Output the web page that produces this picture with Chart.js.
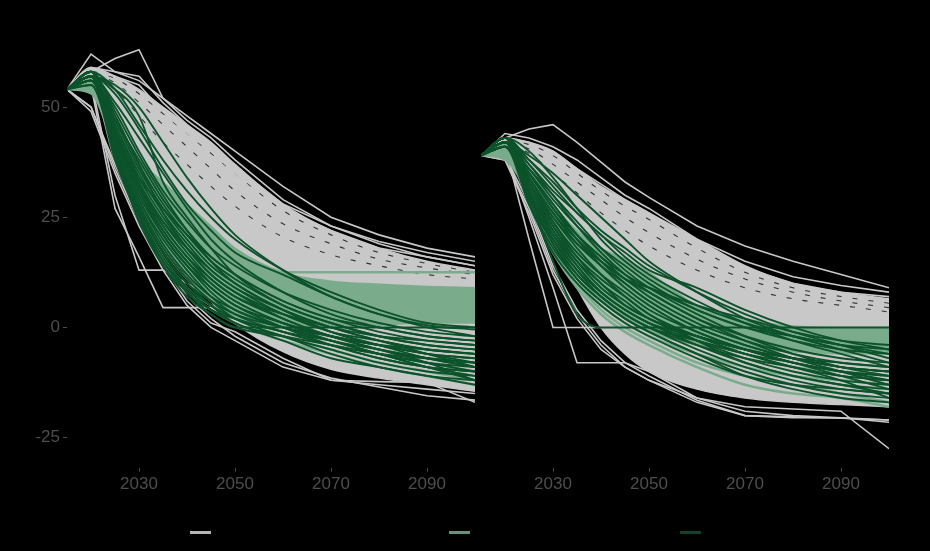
<!DOCTYPE html>
<html>
<head>
<meta charset="utf-8">
<script src="https://cdn.jsdelivr.net/npm/chart.js@4.4.1/dist/chart.umd.min.js"></script>
<style>
  body { margin: 0; background: #000; width: 930px; height: 551px; overflow: hidden; position: relative; font-family: "Liberation Sans", Arial, sans-serif; }
  .panel { position: absolute; top: 0; }
  #left { left: 0; }
  #right { left: 476px; }
  .key { position: absolute; top: 522px; height: 20px; display: flex; align-items: center; font-size: 15px; color: #000; }
  .key span.sw { display: inline-block; width: 21px; height: 3px; margin-right: 6px; }
</style>
</head>
<body>
<div class="panel" id="left"><canvas id="leftChart" width="480" height="506"></canvas></div>
<div class="panel" id="right"><canvas id="rightChart" width="454" height="506"></canvas></div>
<div class="key" style="left:190px"><span class="sw" style="background:#b4b4b4"></span>All scenarios</div>
<div class="key" style="left:449px"><span class="sw" style="background:#66947b"></span>1.5°C scenarios</div>
<div class="key" style="left:680px"><span class="sw" style="background:#15402a"></span>Selected pathways</div>
<script>
// shared time grid
const years = [2015, 2020, 2025, 2030, 2035, 2040, 2045, 2050, 2060, 2070, 2080, 2090, 2100];
const xTicks = [2030, 2050, 2070, 2090];
const yTicks = [-25, 0, 25, 50];

// ---- left panel ----
const leftGrayLow = [54, 54, 45, 34, 25, 15, 6, 1, -5.5, -9.5, -11.5, -13, -14.5];
const leftGrayHigh = [54, 59, 57, 54, 50, 46, 42, 37, 28, 22, 18, 15, 13];
const leftStreaks = [
  [54, 58, 56.5, 53, 48.5, 44, 39.5, 35, 26.5, 21, 17, 14.5, 12.5],
  [54, 57.5, 55.5, 51, 46, 41, 36, 31, 23.5, 19, 15.5, 13.5, 12],
  [54, 57, 54, 48, 42, 37, 32, 27.5, 20.5, 16.5, 14, 12, 11]
];
const leftGray = [
  [54, 58, 61, 63, 52, 47, 43, 38, 29, 23, 19, 16, 14],
  [54, 62, 58, 56, 52, 48, 44, 40, 32, 25, 21, 18, 16],
  [54, 59, 58, 57, 51, 46, 41, 36.5, 28, 23, 19.5, 17, 15],
  [54, 58, 57, 55, 49, 44, 40, 35, 27, 22, 18, 16, 14],
  [54, 56, 30, 13, 13, 10, 7, 4, 0, -3, -6, -8, -9],
  [54, 55, 27, 16, 4.5, 4.5, 4.5, 1, -3, -6, -8, -10, -11],
  [54, 50, 36, 24, 14, 6, 1, -1, -7, -12, -12.3, -12.5, -17],
  [54, 49, 35, 23, 13, 5, 0, -3, -9, -12, -13, -14, -15],
  [54, 50, 37, 25, 15, 7, 2, -2, -8, -11.5, -13.5, -15.5, -16.5]
];
const leftBandLow = [54, 53, 40, 28, 19, 12, 6, 2.5, 0, 0, 0.5, 1, 1];
const leftBandHigh = [54, 57, 46, 38, 33, 28, 23, 18, 12.5, 10.5, 9.8, 9.3, 9];
const leftLight = [
  [54, 57, 45, 32, 22, 17, 14, 13, 12.5, 12.5, 12.5, 12.5, 12.5],
  [54, 55, 40, 28, 18, 11, 6, 3, -1, -4, -6, -7, -8],
  [54, 56, 41, 29, 19, 12, 7, 4, 0, -3, -6, -8, -10],
  [54, 55, 39, 26, 16, 9, 5, 2, -2, -5, -8, -10, -12],
  [54, 56, 42, 30, 20, 13, 8, 5, 1, -2, -4, -5, -6],
  [54, 55, 38, 25, 15, 8, 4, 1, -3, -6, -9, -11, -13]
];
const leftDark = [
  [54, 57, 50, 40, 31, 24, 18, 14, 8, 4, 1, -1, -2],
  [54, 58, 48, 37, 28, 21, 15, 11, 5, 1, -2, -4, -5],
  [54, 57, 46, 35, 26, 19, 13, 9, 3, -1, -3, -5, -6],
  [54, 56, 45, 33, 24, 17, 11, 7, 2, -2, -4, -6, -7],
  [54, 57, 44, 31, 22, 15, 10, 6, 1, -2, -5, -7, -8],
  [54, 58, 43, 30, 21, 14, 8, 4, 0, -3, -6, -8, -9],
  [54, 56, 42, 29, 20, 13, 7, 3, -1, -4, -7, -9, -10],
  [54, 57, 41, 28, 18, 11, 6, 2, -2, -5, -8, -10, -11],
  [54, 55, 40, 27, 17, 10, 5, 1, -2, -6, -9, -11, -12],
  [54, 57, 39, 26, 16, 9, 4, 1, -3, -7, -9, -11, -13],
  [54, 56, 44, 34, 27, 21, 16, 12, 6, 2, 0, -2, -3],
  [54, 57, 47, 36, 27, 20, 14, 10, 4, 0, -3, -5, -6],
  [54, 57, 53, 45, 36, 28, 22, 17, 12, 7, 3, 0.5, -0.5],
  [54, 56, 40, 25, 14, 7, 3, 0, 0, 0, 0, 0, 0],
  [54, 57, 45, 32, 23, 16, 11, 7, 3, 0, -2, -3, -4],
  [54, 58, 42, 29, 19, 12, 7, 4, 0, -3, -5, -7, -9],
  [54, 57, 38, 25, 15, 9, 5, 2, -1, -4, -6, -8, -10],
  [54, 56, 47, 38, 29, 22, 16, 12, 6, 2, -1, -3, -4],
  [54, 57, 43, 31, 21, 14, 9, 5, 1, -2, -4, -5, -6],
  [54, 58, 49, 39, 30, 22, 15, 10, 4, -1, -4, -6, -8],
  [54, 57, 41, 27, 17, 10, 6, 3, 0, -2, -4, -6, -7],
  [54, 55, 39, 24, 14, 8, 4, 2, -1, -3, -6, -9, -11],
  [54, 57, 46, 34, 25, 18, 12, 8, 3, -1, -4, -7, -9],
  [54, 58, 44, 32, 22, 15, 9, 5, 0, -4, -7, -9, -10],
  [54, 57, 54, 48, 33, 25, 18, 12, 5, 1, -2, -4, -5],
  [54, 56, 48, 37, 26, 18, 12, 8, 2, -2, -5, -8, -12],
  [54, 57, 55, 50, 42, 34, 27, 21, 13, 7, 3, 0, -2],
  [54, 58, 54, 46, 38, 31, 25, 20, 13, 8, 4, 1, 0],
  [54, 57, 51, 43, 35, 27, 20, 15, 8, 3, 0, -2, -3],
  [54, 56, 43, 32, 24, 18, 13, 9, 4, 0, -3, -6, -9],
  [54, 58, 45, 33, 23, 16, 10, 6, 1, -3, -6, -9, -12],
  [54, 57, 40, 26, 15, 8, 3, 0, -2, -4, -6, -7, -8]
];

// ---- right panel ----
const rightGrayLow = [39, 39, 31, 20, 9, 0, -6, -10, -14, -16, -17, -17.5, -18];
const rightGrayHigh = [39, 43, 42, 40, 36, 32, 29, 26, 20, 14, 10, 8, 6.5];
const rightStreaks = [
  [39, 42.5, 41.5, 39, 35, 31, 27.5, 24.5, 18, 12.5, 9, 7, 5.5],
  [39, 42, 40.5, 37, 33, 29, 25, 21.5, 15.5, 11, 8, 6, 4.5],
  [39, 41.5, 39.5, 35, 30.5, 26, 22, 18.5, 13, 9, 6.5, 5, 3.5]
];
const rightGray = [
  [39, 43, 45, 46, 42, 37.5, 33, 29.5, 23, 18.5, 15, 12, 9],
  [39, 44, 43, 41, 38, 34, 30, 27, 20, 15, 11.5, 9.5, 8],
  [39, 43, 42, 40, 36, 32.5, 29, 26, 19, 13.5, 10, 8, 7],
  [39, 41, 20, 0, 0, 0, 0, 0, 0, 0, 0, 0, 0],
  [39, 40, 25, 9, -8, -8, -8, -10, -16, -19, -20, -20.5, -21],
  [39, 38, 27, 13, 3, -4, -9, -12, -17, -20, -20.5, -20.5, -21.5],
  [39, 38, 26, 12, 2, -5, -9, -12, -16, -18, -18.5, -19, -27.5],
  [39, 39, 28, 14, 4, -3, -8, -11, -16.5, -20, -20.3, -20.6, -21]
];
const rightBandLow = [39, 38, 30, 20, 12, 6, 2, -1, -4, -5, -5.5, -6, -6];
const rightBandHigh = [39, 42, 36, 28, 22, 18, 15.5, 12.5, 5, 2, 0.3, 0, 0];
const rightLight = [
  [39, 40, 30, 19, 11, 5, 1, -2, -6, -9, -11, -12, -13],
  [39, 41, 31, 21, 13, 7, 3, 0, -4, -8, -11, -13, -14],
  [39, 40, 29, 18, 10, 4, 0, -3, -8, -11, -13, -15, -17],
  [39, 41, 32, 22, 14, 8, 4, 1, -3, -6, -9, -10, -11],
  [39, 40, 28, 17, 9, 3, -1, -4, -9, -13, -15, -16, -18]
];
const rightDark = [
  [39, 42, 36, 29, 23, 18, 14, 10, 4, 0, -3, -5, -6],
  [39, 43, 35, 27, 21, 16, 11, 8, 2, -2, -5, -7, -8],
  [39, 42, 34, 26, 19, 14, 10, 6, 0, -4, -7, -9, -10],
  [39, 43, 33, 24, 17, 12, 8, 4, -1, -5, -8, -10, -11],
  [39, 41, 32, 23, 16, 11, 7, 3, -2, -6, -9, -11, -12],
  [39, 42, 31, 22, 15, 10, 5, 2, -3, -7, -10, -12, -13],
  [39, 43, 30, 21, 14, 8, 4, 1, -4, -8, -11, -13, -14],
  [39, 42, 29, 19, 12, 7, 3, 0, -5, -9, -12, -14, -15],
  [39, 41, 28, 18, 11, 6, 2, -1, -6, -10, -13, -15, -16],
  [39, 42, 37, 31, 26, 21, 17, 13, 9, 4, 0, -3, -5],
  [39, 43, 38, 33, 27, 22, 18, 14, 8, 3, -1, -4, -7],
  [39, 42, 33, 25, 19, 15, 11, 9, 5, 2, -1, -3, -4],
  [39, 43, 30, 15, 3, 0, 0, 0, 0, 0, 0, 0, 0],
  [39, 42, 35, 27, 20, 14, 9, 5, -1, -5, -8, -10, -12],
  [39, 41, 31, 21, 13, 7, 3, 0, -4, -7, -9, -11, -12],
  [39, 42, 36, 30, 24, 18, 13, 9, 3, -2, -6, -9, -11],
  [39, 43, 34, 25, 18, 12, 7, 3, -3, -8, -11, -13, -15],
  [39, 42, 32, 22, 14, 8, 4, 1, -3, -6, -8, -10, -11],
  [39, 41, 29, 20, 13, 8, 4, 1, -2, -5, -7, -8, -9],
  [39, 42, 34, 26, 20, 15, 11, 7, 1, -3, -6, -8, -9],
  [39, 43, 37, 30, 23, 17, 12, 8, 2, -3, -7, -10, -13],
  [39, 42, 30, 19, 11, 6, 2, -1, -6, -11, -14, -16, -17],
  [39, 42, 35, 28, 21, 16, 12, 9, 4, 0, -2, -4, -5],
  [39, 41, 33, 24, 16, 10, 6, 2, -2, -5, -7, -9, -10],
  [39, 43, 40, 34, 27, 20, 15, 11, 5, 1, -2, -4, -6],
  [39, 42, 28, 17, 10, 5, 1, -2, -7, -11, -13, -14, -15],
  [39, 42, 39, 35, 30, 25, 20, 15, 8, 2, -2, -5, -8],
  [39, 43, 38, 32, 26, 21, 16, 12, 6, 1, -3, -6, -9],
  [39, 42, 33, 23, 15, 9, 5, 2, -2, -5, -8, -11, -14],
  [39, 41, 35, 28, 21, 15, 10, 6, 0, -4, -7, -9, -10],
  [39, 43, 31, 20, 12, 7, 3, 0, -3, -6, -9, -12, -16]
];

const GRAY = 'rgb(200,200,200)';
const LIGHT = 'rgb(122,172,140)';
const DARK = 'rgb(12,82,42)';
const TICK = '#4d4d4d';
const FONT = { family: '"Liberation Sans", Arial, sans-serif', size: 17 };

function pts(vals) {
    return years.map((x, i) => ({ x: x, y: vals[i] }));
}

function line(vals, color, width, smooth, extra) {
    return Object.assign({
        data: pts(vals),
        borderColor: color,
        backgroundColor: color,
        borderWidth: width,
        pointRadius: 0,
        fill: false,
        tension: 0,
        cubicInterpolationMode: smooth ? 'monotone' : 'default'
    }, extra || {});
}

function buildDatasets(p) {
    // listed bottom to top
    const ds = [];
    ds.push(line(p.grayLow, GRAY, 1.5, true));
    ds.push(line(p.grayHigh, GRAY, 1.5, true, { fill: '-1' }));
    p.streaks.forEach(v => ds.push(line(v, 'rgba(0,0,0,0.75)', 1.1, true, { borderDash: [5, 11] })));
    p.gray.forEach(v => ds.push(line(v, GRAY, 1.6, false)));
    ds.push(line(p.bandLow, LIGHT, 1.5, true));
    ds.push(line(p.bandHigh, LIGHT, 1.5, true, { fill: '-1' }));
    p.light.forEach(v => ds.push(line(v, LIGHT, 2.5, true)));
    p.dark.forEach(v => ds.push(line(v, DARK, 1.9, true)));
    const n = ds.length;
    ds.forEach((d, i) => { d.order = n - i; });
    return ds;
}

function makeChart(id, p, showY, padding) {
    const ctx = document.getElementById(id).getContext('2d');
    const yAxis = {
        display: showY,
        min: -31.8,
        max: 66.8,
        afterBuildTicks: s => { s.ticks = yTicks.map(v => ({ value: v })); },
        grid: { drawOnChartArea: false, drawTicks: true, tickLength: 4, color: TICK },
        border: { display: false },
        ticks: { color: TICK, font: FONT, padding: 3, callback: v => String(v) }
    };
    if (showY) yAxis.afterFit = s => { s.width = 67; };
    return new Chart(ctx, {
        type: 'line',
        data: { datasets: buildDatasets(p) },
        options: {
            responsive: false,
            animation: false,
            events: [],
            layout: { padding: padding },
            plugins: { legend: { display: false }, tooltip: { enabled: false } },
            scales: {
                x: {
                    type: 'linear',
                    min: 2015,
                    max: 2100,
                    afterBuildTicks: s => { s.ticks = xTicks.map(v => ({ value: v })); },
                    grid: { drawOnChartArea: false, drawTicks: true, tickLength: 4, color: TICK },
                    border: { display: false },
                    ticks: { color: TICK, font: FONT, padding: 3, maxRotation: 0, callback: v => String(v) }
                },
                y: yAxis
            }
        }
    });
}

makeChart('leftChart', {
    grayLow: leftGrayLow, grayHigh: leftGrayHigh, streaks: leftStreaks, gray: leftGray,
    bandLow: leftBandLow, bandHigh: leftBandHigh, light: leftLight, dark: leftDark
}, true, { top: 33, right: 5, bottom: 8, left: 0 });

makeChart('rightChart', {
    grayLow: rightGrayLow, grayHigh: rightGrayHigh, streaks: rightStreaks, gray: rightGray,
    bandLow: rightBandLow, bandHigh: rightBandHigh, light: rightLight, dark: rightDark
}, false, { top: 33, right: 41, bottom: 8, left: 5 });
</script>
</body>
</html>
